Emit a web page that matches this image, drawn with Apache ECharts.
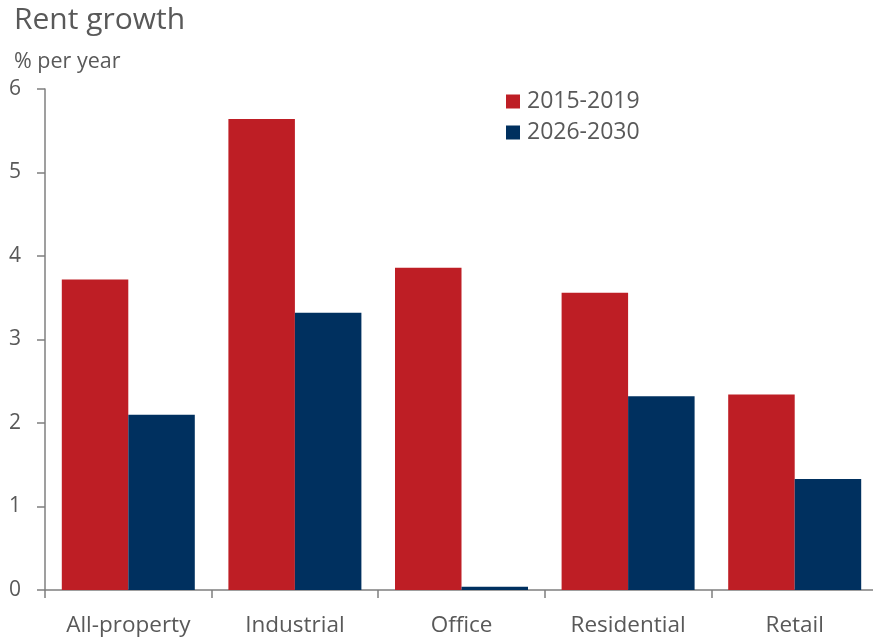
<!DOCTYPE html>
<html>
<head>
<meta charset="utf-8">
<script src="https://cdn.jsdelivr.net/npm/echarts@6/dist/echarts.min.js"></script>
<style>
  html, body { margin: 0; padding: 0; background: #fff; }
  #chart { width: 873px; height: 641px; }
</style>
</head>
<body>
<div id="chart"></div>
<script>
const categories = ['All-property', 'Industrial', 'Office', 'Residential', 'Retail'];
const seriesNames = ['2015-2019', '2026-2030'];
const values2015 = [3.72, 5.64, 3.86, 3.56, 2.34];
const values2026 = [2.10, 3.32, 0.04, 2.32, 1.33];
const yTicks = [0, 1, 2, 3, 4, 5, 6];

const textColor = '#595959';
const axisColor = '#7f7f7f';
const font = '"Open Sans", "Noto Sans", sans-serif';
const red = '#BE1E25';
const blue = '#00305F';

const chart = echarts.init(document.getElementById('chart'), null, { renderer: 'canvas' });
chart.setOption({
  animation: false,
  textStyle: { fontFamily: font },
  title: [
    { text: 'Rent growth', left: 9, top: 0,
      textStyle: { fontFamily: font, fontSize: 30, fontWeight: 'normal', color: textColor } },
    { text: '% per year', left: 9, top: 46,
      textStyle: { fontFamily: font, fontSize: 21.5, fontWeight: 'normal', color: textColor } }
  ],
  legend: {
    data: seriesNames,
    orient: 'vertical',
    left: 501,
    top: 85,
    itemWidth: 14,
    itemHeight: 14,
    itemGap: 8,
    icon: 'rect',
    textStyle: { fontFamily: font, fontSize: 23, color: textColor, padding: [0, 0, 0, 2] }
  },
  // the plot runs a few pixels past the right edge of the canvas
  grid: { left: 45, width: 833, top: 89, bottom: 51, containLabel: false, outerBoundsMode: 'none' },
  xAxis: {
    type: 'category',
    data: categories,
    axisLine: { lineStyle: { color: axisColor, width: 1.5 } },
    axisTick: { show: true, alignWithLabel: false, length: 8, lineStyle: { color: axisColor, width: 1.5 } },
    axisLabel: { fontFamily: font, fontSize: 22.5, color: textColor, margin: 24 }
  },
  yAxis: {
    type: 'value',
    min: yTicks[0],
    max: yTicks[yTicks.length - 1],
    interval: 1,
    splitLine: { show: false },
    axisLine: { show: true, lineStyle: { color: axisColor, width: 1.5 } },
    axisTick: { show: true, length: 8, lineStyle: { color: axisColor, width: 1.5 } },
    axisLabel: { fontFamily: font, fontSize: 21, color: textColor, margin: 24,
      formatter: v => yTicks.includes(v) ? String(v) : '' }
  },
  series: [
    { name: seriesNames[0], type: 'bar', data: values2015, barWidth: 66.5, barGap: '0%',
      itemStyle: { color: red } },
    { name: seriesNames[1], type: 'bar', data: values2026, barWidth: 66.5, barGap: '0%',
      itemStyle: { color: blue } }
  ]
});
</script>
</body>
</html>
